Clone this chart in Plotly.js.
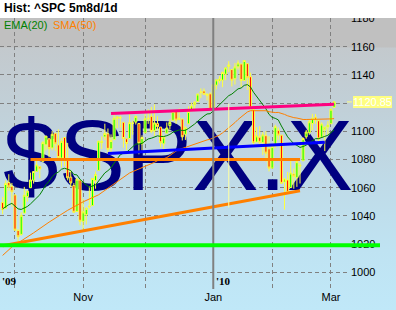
<!DOCTYPE html>
<html>
<head>
<meta charset="utf-8">
<script src="https://cdn.plot.ly/plotly-3.0.1.min.js"></script>
<style>
  html, body { margin: 0; padding: 0; background: #ffffff; }
  #chart {
    width: 396px; height: 310px;
    background: linear-gradient(to bottom,
      #ffffff 0px, #ffffff 18px,
      #c0c0c0 18px, #c0c0c0 47px,
      #c3c9cd 48px, #c1d0d8 110px, #bfdbe8 185px, #bfe3f2 250px, #c0e8f8 310px);
  }
</style>
</head>
<body>
<div id="chart"></div>
<script>
// ---------- data ----------
const dates = [
  '2009-09-25','2009-09-28','2009-09-29','2009-09-30','2009-10-01','2009-10-02','2009-10-05','2009-10-06','2009-10-07','2009-10-08',
  '2009-10-09','2009-10-12','2009-10-13','2009-10-14','2009-10-15','2009-10-16','2009-10-19','2009-10-20','2009-10-21','2009-10-22',
  '2009-10-23','2009-10-26','2009-10-27','2009-10-28','2009-10-29','2009-10-30','2009-11-02','2009-11-03','2009-11-04','2009-11-05',
  '2009-11-06','2009-11-09','2009-11-10','2009-11-11','2009-11-12','2009-11-13','2009-11-16','2009-11-17','2009-11-18','2009-11-19',
  '2009-11-20','2009-11-23','2009-11-24','2009-11-25','2009-11-27','2009-11-30','2009-12-01','2009-12-02','2009-12-03','2009-12-04',
  '2009-12-07','2009-12-08','2009-12-09','2009-12-10','2009-12-11','2009-12-14','2009-12-15','2009-12-16','2009-12-17','2009-12-18',
  '2009-12-21','2009-12-22','2009-12-23','2009-12-24','2009-12-28','2009-12-29','2009-12-30','2009-12-31','2010-01-04','2010-01-05',
  '2010-01-06','2010-01-07','2010-01-08','2010-01-11','2010-01-12','2010-01-13','2010-01-14','2010-01-15','2010-01-19','2010-01-20',
  '2010-01-21','2010-01-22','2010-01-25','2010-01-26','2010-01-27','2010-01-28','2010-01-29','2010-02-01','2010-02-02','2010-02-03',
  '2010-02-04','2010-02-05','2010-02-08','2010-02-09','2010-02-10','2010-02-11','2010-02-12','2010-02-16','2010-02-17','2010-02-18',
  '2010-02-19','2010-02-22','2010-02-23','2010-02-24','2010-02-25','2010-02-26','2010-03-01','2010-03-02'
];
const openP = [
  1049.5,1045.4,1063.7,1061.0,1054.9,1029.7,1026.9,1042.0,1053.7,1060.0,
  1065.3,1071.6,1075.0,1078.7,1090.4,1094.7,1088.2,1098.6,1090.4,1081.0,
  1095.6,1080.4,1067.5,1061.5,1043.2,1065.4,1036.2,1040.9,1047.1,1047.3,
  1065.0,1072.3,1091.9,1096.0,1098.3,1087.6,1094.1,1109.2,1109.4,1106.4,
  1094.7,1094.9,1105.8,1106.5,1105.5,1091.1,1098.9,1109.0,1110.6,1100.4,
  1105.5,1103.0,1091.1,1098.7,1104.0,1107.8,1114.1,1108.6,1108.7,1097.9,
  1105.3,1114.5,1118.8,1121.1,1127.5,1128.6,1125.5,1126.6,1116.6,1132.7,
  1135.7,1136.3,1140.5,1146.0,1143.8,1137.3,1145.7,1147.7,1136.0,1148.0,
  1138.7,1115.5,1092.4,1095.8,1091.9,1096.9,1087.6,1073.9,1090.1,1100.7,
  1097.3,1064.1,1065.5,1060.1,1069.7,1067.1,1076.0,1079.1,1096.1,1099.0,
  1105.5,1110.0,1107.5,1095.9,1101.2,1103.1,1105.4,1117.0
];
const highP = [
  1053.5,1065.1,1069.6,1063.4,1054.9,1030.6,1042.6,1060.6,1058.0,1070.7,
  1071.5,1079.5,1075.3,1093.2,1096.6,1094.7,1100.2,1098.6,1101.4,1095.2,
  1095.8,1091.8,1072.5,1063.3,1066.8,1065.4,1052.2,1046.4,1061.0,1066.7,
  1071.5,1093.2,1096.4,1105.4,1102.0,1097.8,1113.7,1110.5,1111.1,1106.4,
  1094.7,1112.4,1107.6,1111.2,1105.5,1097.2,1112.3,1115.6,1117.3,1119.1,
  1110.7,1103.0,1097.0,1106.3,1108.5,1114.8,1114.1,1116.2,1108.7,1103.7,
  1117.7,1120.3,1121.6,1126.5,1130.4,1130.4,1126.4,1127.6,1133.9,1136.6,
  1139.2,1142.5,1145.4,1149.7,1143.8,1148.4,1150.4,1147.8,1150.5,1148.0,
  1141.6,1115.5,1103.0,1103.7,1099.5,1100.2,1096.5,1089.4,1104.7,1102.7,
  1097.3,1067.1,1071.2,1079.3,1073.7,1080.0,1077.8,1095.7,1101.0,1108.2,
  1112.4,1112.3,1108.6,1106.4,1103.5,1107.2,1116.1,1121.5
];
const lowP = [
  1041.2,1045.4,1057.8,1046.5,1029.5,1020.0,1025.9,1042.0,1050.1,1060.0,
  1063.0,1071.6,1066.7,1078.7,1086.4,1081.5,1086.5,1086.2,1080.8,1074.3,
  1075.5,1065.2,1060.6,1042.2,1043.2,1033.4,1029.4,1033.9,1045.2,1047.3,
  1059.3,1072.3,1087.4,1093.8,1084.9,1085.3,1094.1,1102.2,1102.7,1088.4,
  1086.8,1094.9,1097.6,1104.8,1083.7,1086.3,1098.9,1105.3,1098.7,1096.5,
  1100.8,1088.6,1085.9,1098.7,1101.3,1107.8,1105.4,1108.0,1093.5,1093.9,
  1105.3,1114.5,1116.0,1121.1,1123.5,1126.1,1121.9,1114.8,1116.6,1129.7,
  1134.0,1131.3,1136.2,1142.0,1131.8,1133.2,1143.8,1131.4,1135.8,1129.3,
  1114.8,1090.2,1092.4,1089.9,1083.1,1078.5,1071.6,1073.9,1088.0,1094.0,
  1062.8,1044.5,1056.5,1060.1,1059.3,1060.6,1063.0,1079.1,1094.7,1097.5,
  1100.8,1105.4,1092.2,1095.5,1086.0,1097.6,1105.4,1116.5
];
const closeP = [
  1044.4,1063.0,1060.6,1057.1,1029.9,1025.2,1040.5,1054.7,1057.6,1065.5,
  1071.5,1076.2,1073.2,1092.0,1096.6,1087.7,1097.9,1091.1,1081.4,1092.9,
  1079.6,1067.0,1063.4,1042.6,1066.1,1036.2,1042.9,1045.4,1046.5,1066.6,
  1069.3,1093.1,1093.0,1098.5,1087.2,1093.5,1109.3,1110.3,1109.8,1094.9,
  1091.4,1106.2,1105.7,1110.6,1091.5,1095.6,1108.9,1109.2,1099.9,1106.0,
  1103.3,1091.9,1096.0,1102.4,1106.4,1114.1,1107.9,1109.2,1096.1,1102.5,
  1114.1,1118.0,1120.6,1126.5,1127.8,1126.2,1126.4,1115.1,1133.0,1136.5,
  1137.1,1141.7,1145.0,1147.0,1136.2,1145.7,1148.5,1136.0,1150.2,1138.0,
  1116.5,1091.8,1096.8,1092.2,1097.5,1084.5,1073.9,1089.2,1103.3,1097.3,
  1063.1,1066.2,1056.7,1070.5,1068.1,1078.5,1075.5,1094.9,1099.5,1106.8,
  1109.2,1108.0,1094.6,1105.2,1102.9,1104.5,1115.7,1120.9
];
// EMA(20) (one value per bar)
const ema20 = [
  1045.0,1046.7,1048.0,1048.9,1047.1,1045.0,1044.6,1045.5,1046.7,1048.5,
  1050.7,1053.1,1055.0,1058.5,1062.1,1064.6,1067.8,1070.0,1071.1,1073.1,
  1073.8,1073.1,1072.2,1069.4,1069.1,1065.9,1063.7,1062.0,1060.5,1061.1,
  1061.9,1064.8,1067.5,1070.5,1072.1,1074.1,1077.5,1080.6,1083.4,1084.5,
  1085.1,1087.1,1088.9,1091.0,1091.0,1091.4,1093.1,1094.6,1095.1,1096.2,
  1096.8,1096.4,1096.3,1096.9,1097.8,1099.4,1100.2,1101.0,1100.6,1100.7,
  1102.0,1103.5,1105.2,1107.2,1109.2,1110.8,1112.3,1112.5,1114.5,1116.6,
  1118.5,1120.7,1123.1,1125.3,1126.4,1128.2,1130.1,1130.7,1132.6,1133.1,
  1131.5,1127.7,1124.8,1121.7,1119.4,1116.0,1112.0,1109.9,1109.2,1108.1,
  1103.8,1100.2,1096.1,1093.6,1091.2,1090.0,1088.6,1089.2,1090.2,1091.8,
  1093.4,1094.8,1094.8,1095.8,1096.4,1097.2,1099.0,1101.0
];
// SMA(50)
const smaDates = [
  '2009-09-25','2009-09-30','2009-10-09','2009-10-16','2009-10-26','2009-11-02','2009-11-09','2009-11-16','2009-11-23',
  '2009-12-04','2009-12-07','2009-12-08','2009-12-09','2009-12-10','2009-12-11','2009-12-14','2009-12-15','2009-12-16','2009-12-17',
  '2009-12-18','2009-12-21','2009-12-22','2009-12-23','2009-12-24','2009-12-28','2009-12-29','2009-12-30','2009-12-31','2010-01-04',
  '2010-01-05','2010-01-06','2010-01-07','2010-01-08','2010-01-11','2010-01-12','2010-01-13','2010-01-14','2010-01-15','2010-01-19',
  '2010-01-20','2010-01-21','2010-01-22','2010-01-25','2010-01-26','2010-01-27','2010-01-28','2010-01-29','2010-02-01','2010-02-02',
  '2010-02-03','2010-02-04','2010-02-05','2010-02-08','2010-02-09','2010-02-10','2010-02-11','2010-02-12','2010-02-16','2010-02-17',
  '2010-02-18','2010-02-19','2010-02-22','2010-02-23','2010-02-24','2010-02-25','2010-02-26','2010-03-01','2010-03-02'
];
const sma50 = [
  1012.0,1018.0,1028.0,1035.6,1044.0,1050.0,1055.0,1062.5,1070.5,
  1078.0,1079.2,1079.7,1080.4,1081.4,1082.9,1084.7,1086.0,1087.1,1087.9,
  1088.6,1089.5,1090.3,1091.2,1091.9,1092.6,1093.3,1093.9,1094.4,1095.4,
  1096.3,1097.4,1098.9,1100.6,1102.7,1104.1,1106.2,1108.4,1110.2,1112.2,
  1113.7,1114.6,1114.6,1114.7,1114.5,1114.7,1114.6,1113.9,1113.4,1113.3,
  1113.4,1112.8,1112.0,1111.0,1110.2,1109.7,1109.4,1108.7,1108.4,1108.4,
  1108.4,1108.6,1108.9,1108.9,1108.9,1108.8,1108.7,1108.8,1109.0
];
// drawn trend lines (end points)
const pinkDates   = ['2009-11-13','2010-03-02'];  const pinkVals   = [1112.6, 1119.2];
const blueDates   = ['2009-11-12','2010-02-25'];  const blueVals   = [1084.3, 1092.2];
const flatDates   = ['2009-10-08','2010-02-12'];  const flatVals   = [1080.0, 1080.0];
const riseDates   = ['2009-09-25','2010-02-12'];  const riseVals   = [1018.9, 1057.8];
const markDates   = ['2010-01-11','2010-01-11'];  const markVals   = [1119.5, 1046.0];
const supportLevel = 1019.3;
const lastPrice = 1120.85;

const monthTicks  = ['2009-10-01','2009-11-02','2009-12-01','2010-01-04','2010-02-01','2010-03-01'];
const monthLabels = ['', 'Nov', '', 'Jan', '', 'Mar'];
const yearStart = '2010-01-04';
const priceTicks  = [1000,1020,1040,1060,1080,1100,1120,1140,1160,1180];
const priceLabels = ['1000','1020','1040','1060','1080','1100','','1140','1160','1180'];  // 1120 sits under the last-price tag
const watermark = '$SPX.X';
const chartTitle = 'Hist: ^SPC 5m8d/1d';

// ---------- layout helpers ----------
const PLOT_TOP = 18, PLOT_BOTTOM = 289, PLOT_H = PLOT_BOTTOM - PLOT_TOP, PLOT_W = 350;
const py = p => (PLOT_BOTTOM - p) / PLOT_H;   // pixel row -> paper y
const FONT = 'Liberation Sans, Arial, sans-serif';

function lineTrace(x, y, color, width) {
  return { type: 'scatter', mode: 'lines', x: x, y: y, xaxis: 'x2', yaxis: 'y2',
           line: { color: color, width: width }, hoverinfo: 'skip', showlegend: false };
}

const data = [
  { type: 'scatter', mode: 'text', x: [3 / PLOT_W], y: [py(165)], text: [watermark],
    textposition: 'middle right', cliponaxis: false,
    textfont: { family: FONT, size: 100, color: '#000080' },
    xaxis: 'x', yaxis: 'y', hoverinfo: 'skip', showlegend: false },
  { type: 'candlestick', x: dates, open: openP, high: highP, low: lowP, close: closeP,
    xaxis: 'x2', yaxis: 'y2', whiskerwidth: 0, hoverinfo: 'skip', showlegend: false,
    increasing: { line: { color: '#ffff40', width: 1 }, fillcolor: '#00ff00' },
    decreasing: { line: { color: '#ffff40', width: 1 }, fillcolor: '#ff0000' } },
  lineTrace(dates, ema20, '#008000', 1),
  lineTrace(smaDates, sma50, '#ff8000', 1),
  lineTrace(flatDates, flatVals, '#ff8000', 3),
  lineTrace(riseDates, riseVals, '#ff8000', 3),
  lineTrace(blueDates, blueVals, '#0000ff', 3),
  lineTrace(pinkDates, pinkVals, '#ff0080', 3),
  lineTrace(markDates, markVals, '#ffffa0', 1)
];

const layout = {
  width: 396, height: 310,
  margin: { l: 0, r: 396 - PLOT_W, t: PLOT_TOP, b: 310 - PLOT_BOTTOM, pad: 0 },
  paper_bgcolor: 'rgba(0,0,0,0)', plot_bgcolor: 'rgba(0,0,0,0)',
  showlegend: false, hovermode: false, boxgap: 0.05,
  xaxis: { range: [0, 1], visible: false, fixedrange: true },
  yaxis: { range: [0, 1], visible: false, fixedrange: true },
  xaxis2: {
    overlaying: 'x', anchor: 'y2', type: 'category',
    categoryorder: 'array', categoryarray: dates,
    range: [-0.84, 112.14], fixedrange: true,
    rangeslider: { visible: false },
    tickmode: 'array', tickvals: monthTicks, ticktext: monthLabels,
    showgrid: true, gridcolor: '#808080', gridwidth: 1, griddash: '4px,3px',
    ticks: '', showline: false, zeroline: false,
    tickfont: { family: FONT, size: 11, color: '#000000' }
  },
  yaxis2: {
    overlaying: 'y', anchor: 'x2', side: 'right',
    range: [988.2, 1180.35], fixedrange: true,
    tickmode: 'array', tickvals: priceTicks, ticktext: priceLabels,
    showgrid: true, gridcolor: '#808080', gridwidth: 1, griddash: '4px,3px',
    ticks: '', showline: false, zeroline: false,
    tickfont: { family: FONT, size: 11, color: '#000000' }
  },
  shapes: [
    { type: 'line', xref: 'x2', yref: 'paper', x0: yearStart, x1: yearStart, y0: 0, y1: 1,
      line: { color: '#808080', width: 2 }, layer: 'above' },
    { type: 'line', xref: 'paper', yref: 'y2', x0: 0, x1: 380 / PLOT_W, y0: supportLevel, y1: supportLevel,
      line: { color: '#00ff00', width: 4 }, layer: 'above' },
    { type: 'line', xref: 'paper', yref: 'y2', x0: 1 - 3 / PLOT_W, x1: 1 + 2 / PLOT_W, y0: lastPrice, y1: lastPrice,
      line: { color: '#ffff80', width: 1 }, layer: 'above' },
    { type: 'rect', xref: 'paper', yref: 'paper', x0: -0.05, x1: 1.2, y0: 1, y1: 1.2,
      fillcolor: '#ffffff', line: { width: 0 }, layer: 'above' }
  ],
  annotations: [
    { xref: 'paper', yref: 'paper', x: 0, y: py(8.5), xanchor: 'left', yanchor: 'middle', xshift: 2,
      text: '<b>' + chartTitle + '</b>', showarrow: false,
      font: { family: FONT, size: 12, color: '#000000' } },
    { xref: 'paper', yref: 'paper', x: 0, y: py(25), xanchor: 'left', yanchor: 'middle', xshift: 2,
      text: 'EMA(20)', showarrow: false, font: { family: FONT, size: 11, color: '#008000' } },
    { xref: 'paper', yref: 'paper', x: 0, y: py(25), xanchor: 'left', yanchor: 'middle', xshift: 51,
      text: 'SMA(50)', showarrow: false, font: { family: FONT, size: 11, color: '#ff8000' } },
    { xref: 'paper', yref: 'paper', x: 0, y: py(281), xanchor: 'left', yanchor: 'middle', xshift: 0,
      text: "<b>'09</b>", showarrow: false, font: { family: 'Liberation Serif, serif', size: 11, color: '#000000' } },
    { xref: 'x2', yref: 'paper', x: yearStart, y: py(281), xanchor: 'left', yanchor: 'middle', xshift: 1,
      text: "<b>'10</b>", showarrow: false, font: { family: 'Liberation Serif, serif', size: 11, color: '#000000' } },
    { xref: 'paper', yref: 'y2', x: 1, y: lastPrice, xanchor: 'left', yanchor: 'middle', xshift: 3,
      text: lastPrice.toFixed(2), showarrow: false, bgcolor: '#ffff80', borderpad: 0, borderwidth: 0,
      font: { family: FONT, size: 11, color: '#ffffff' } }
  ]
};

Plotly.newPlot('chart', data, layout, { staticPlot: true, displayModeBar: false });
</script>
</body>
</html>
